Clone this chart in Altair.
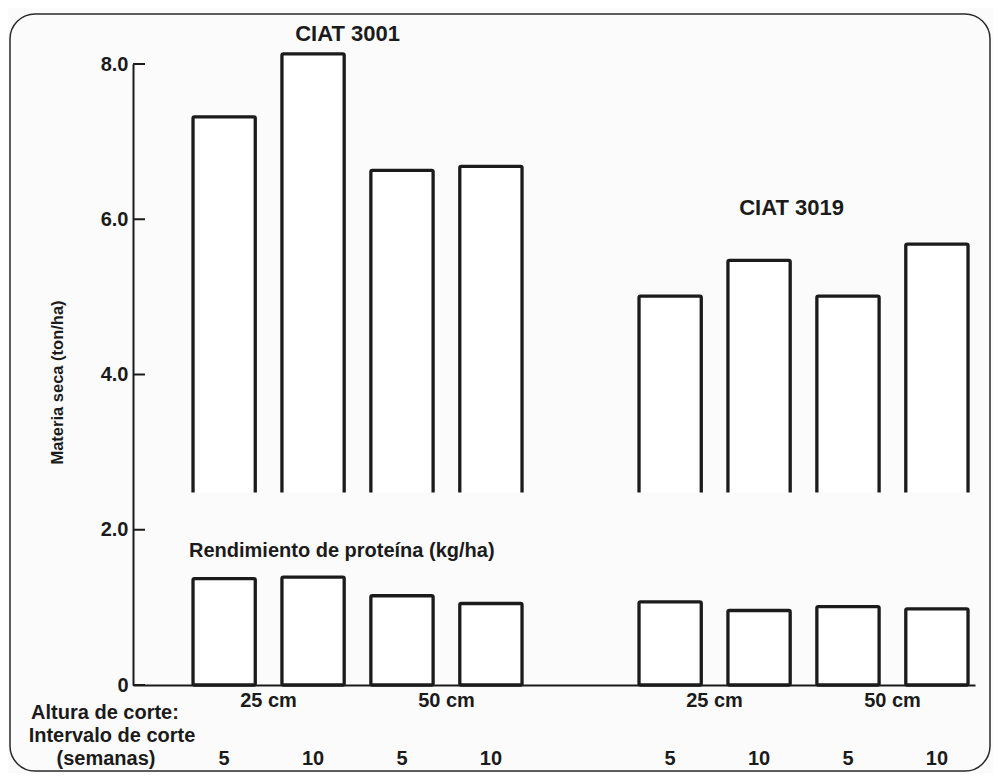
import altair as alt
import pandas as pd

# ---- data ----
cultivares = ["CIAT 3001"] * 4 + ["CIAT 3019"] * 4
altura = ["25 cm", "25 cm", "50 cm", "50 cm"] * 2
intervalo = ["5", "10", "5", "10"] * 2
materia_seca = [7.32, 8.13, 6.63, 6.68, 5.01, 5.47, 5.01, 5.68]   # ton/ha (upper, open bars)
proteina = [1.37, 1.39, 1.15, 1.05, 1.07, 0.96, 1.01, 0.98]       # lower, closed bars
base_materia = 2.45                                                # lower end of open bars
y_ticks = [0, 2, 4, 6, 8]
grupos = ["CIAT 3001", "CIAT 3019"]
alturas = ["25 cm", "50 cm"]

trat = [a + "/" + i for a, i in zip(altura, intervalo)]
trat_order = ["25 cm/5", "25 cm/10", "50 cm/5", "50 cm/10"]

df = pd.DataFrame({
    "cultivar": cultivares, "altura": altura, "intervalo": intervalo, "trat": trat,
    "materia": materia_seca, "proteina": proteina, "base": [base_materia] * 8,
})
df_alt = pd.DataFrame({"cultivar": [g for g in grupos for _ in alturas],
                       "altura": alturas * 2})
df_ticks = pd.DataFrame({"v": y_ticks})
df_grp = pd.DataFrame({"cultivar": grupos})
one = pd.DataFrame({"a": [0]})

W, H = 842, 621
INK = "#1b1b1b"
BG = "#fbfbfb"
FONT = "Liberation Sans"

xscale = alt.Scale(domain=grupos, paddingInner=0.2623, paddingOuter=0.0751, align=0.896)
xoff = alt.Scale(type="band", domain=trat_order, paddingInner=0.30, paddingOuter=0)
yscale = alt.Scale(domain=[0, 8], nice=False, zero=True)

X = alt.X("cultivar:N", scale=xscale, sort=grupos,
          axis=alt.Axis(labels=False, ticks=False, title=None, grid=False,
                        domainColor=INK, domainWidth=2))
XO = alt.XOffset("trat:N", scale=xoff, sort=trat_order)

yaxis = alt.Axis(values=y_ticks, grid=False, ticks=False, tickSize=0,
                 labelExpr="datum.value == 0 ? '0' : format(datum.value, '.1f')",
                 labelFont=FONT, labelFontSize=20, labelFontWeight="bold", labelColor=INK,
                 labelPadding=5, labelFlush=False, labelOverlap=False,
                 domainColor=INK, domainWidth=2,
                 title="Materia seca (ton/ha)", titleFont=FONT, titleFontSize=16.5,
                 titleFontWeight="bold", titleColor=INK, titleAngle=270,
                 titleX=-76, titleY=318, titleAlign="center", titleBaseline="middle")

base = alt.Chart(df)

upper = base.mark_bar(fill="white", stroke=INK, strokeWidth=3.3, cornerRadius=1.5).encode(
    x=X, xOffset=XO,
    y=alt.Y("materia:Q", scale=yscale, axis=yaxis),
    y2="base:Q",
)
mask = alt.Chart(one).mark_rule(stroke=BG, strokeWidth=4.5).encode(
    y=alt.datum(base_materia), x=alt.value(4), x2=alt.value(W)
)
lower = base.mark_bar(fill="white", stroke=INK, strokeWidth=3.3, cornerRadius=1.5).encode(
    x=X, xOffset=XO, y=alt.Y("proteina:Q", scale=yscale), y2=alt.datum(0)
)
ticks = alt.Chart(df_ticks).mark_rule(stroke=INK, strokeWidth=2).encode(
    y=alt.Y("v:Q", scale=yscale), x=alt.value(0), x2=alt.value(12)
)

txt = dict(font=FONT, fontWeight="bold", color=INK, baseline="alphabetic")

t3001 = alt.Chart(df_grp).transform_filter(alt.datum.cultivar == "CIAT 3001").mark_text(
    fontSize=22, dx=-10, **txt).encode(x=X, y=alt.datum(8.30), text="cultivar:N")
t3019 = alt.Chart(df_grp).transform_filter(alt.datum.cultivar == "CIAT 3019").mark_text(
    fontSize=22, dx=-12, **txt).encode(x=X, y=alt.datum(6.06), text="cultivar:N")
tprot = alt.Chart(one).mark_text(fontSize=20, align="left", **txt).encode(
    x=alt.value(56), y=alt.datum(1.65), text=alt.value("Rendimiento de proteína (kg/ha)"))

talt = alt.Chart(df_alt).mark_text(fontSize=20, **txt).encode(
    x=X,
    xOffset=alt.XOffset("altura:N", scale=alt.Scale(type="band", domain=alturas,
                                                       paddingInner=0.152, paddingOuter=0),
                        sort=alturas),
    y=alt.value(H + 22), text="altura:N")
tint = base.mark_text(fontSize=20, **txt).encode(
    x=X, xOffset=XO, y=alt.value(H + 80), text="intervalo:N")

r1 = alt.Chart(one).mark_text(fontSize=20, **txt).encode(
    x=alt.value(-28), y=alt.value(H + 34), text=alt.value("Altura de corte:"))
r2 = alt.Chart(one).mark_text(fontSize=20, **txt).encode(
    x=alt.value(-21), y=alt.value(H + 57), text=alt.value("Intervalo de corte"))
r3 = alt.Chart(one).mark_text(fontSize=20, **txt).encode(
    x=alt.value(-27), y=alt.value(H + 80), text=alt.value("(semanas)"))

frame = alt.Chart(one).mark_rect(filled=False, stroke="#2a2a2a", strokeWidth=1.5,
                                 cornerRadius=25).encode(
    x=alt.value(-123), x2=alt.value(857), y=alt.value(-50), y2=alt.value(707))

chart = alt.layer(
    frame, upper, mask, lower, ticks, t3001, t3019, tprot, talt, tint, r1, r2, r3
).resolve_scale(xOffset="independent").properties(
    width=W, height=H, background=BG,
    padding={"left": 1, "top": 5, "right": 2, "bottom": 1},
).configure_view(stroke=None)

chart.save("out.html", embed_options={"renderer": "svg", "actions": False})
